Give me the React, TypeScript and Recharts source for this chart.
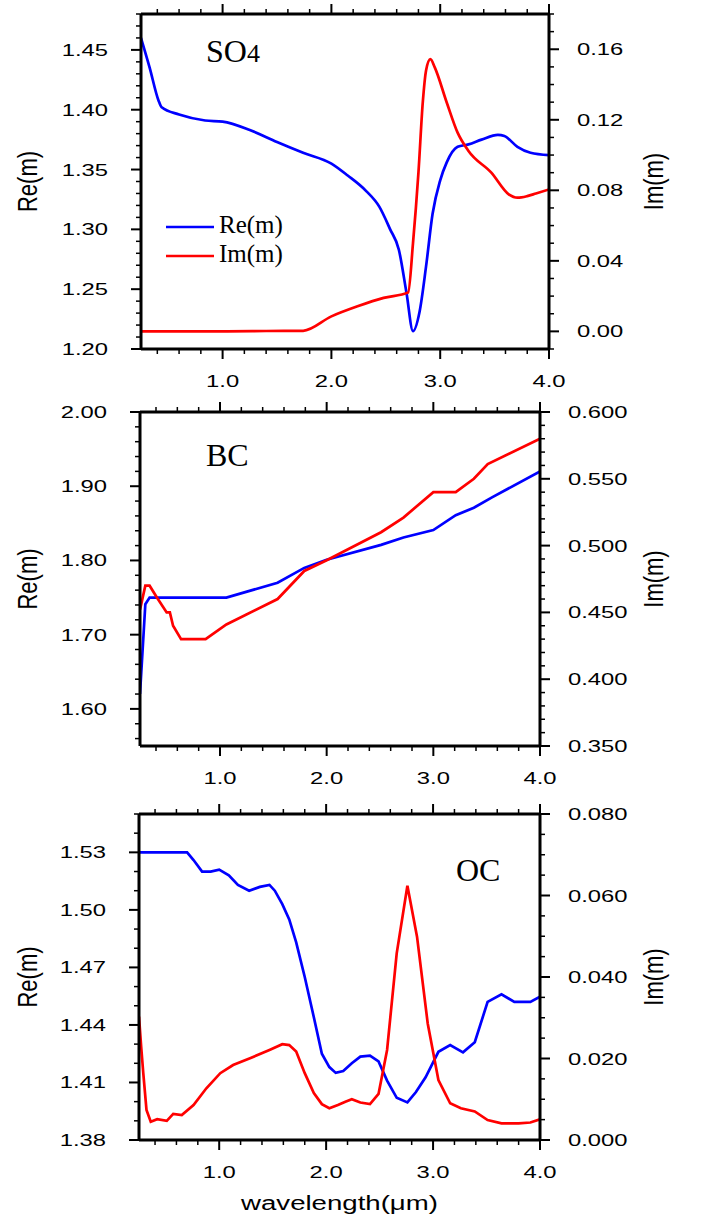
import React from 'react'
import { LineChart, Line, XAxis, YAxis } from 'recharts'

// wavelength grid & refractive index values
const so4ReWl = [0.25, 0.33, 0.41, 0.44, 0.6, 0.84, 1.0, 1.25, 1.5, 1.74, 2.0, 2.15, 2.32, 2.44, 2.54, 2.62, 2.69, 2.75, 2.81, 2.87, 2.93, 3.0, 3.06, 3.16, 3.26, 3.38, 3.53, 3.59, 3.71, 3.83, 4.0]
const so4Re = [1.46, 1.435, 1.408, 1.402, 1.396, 1.391, 1.39, 1.383, 1.373, 1.364, 1.355, 1.345, 1.332, 1.319, 1.3, 1.283, 1.247, 1.215, 1.231, 1.269, 1.313, 1.341, 1.356, 1.369, 1.371, 1.375, 1.379, 1.378, 1.369, 1.364, 1.362]
const so4ImWl = [0.25, 1.0, 1.4, 1.74, 2.0, 2.24, 2.48, 2.705, 2.75, 2.8, 2.84, 2.87, 2.91, 2.95, 3.06, 3.16, 3.26, 3.47, 3.63, 3.71, 3.8, 3.88, 4.0]
const so4Im = [0, 0, 0.0002, 0.0003, 0.0085, 0.0142, 0.019, 0.022, 0.05, 0.09, 0.13, 0.148, 0.1544, 0.1497, 0.1298, 0.1127, 0.1023, 0.09, 0.0777, 0.0758, 0.0767, 0.0782, 0.0805]

const bcReWl = [0.25, 0.3, 0.34, 0.6, 1.06, 1.54, 1.79, 2.0, 2.51, 2.72, 3.0, 3.21, 3.38, 3.55, 4.0]
const bcRe = [1.62, 1.741, 1.75, 1.75, 1.75, 1.77, 1.79, 1.801, 1.821, 1.831, 1.841, 1.861, 1.871, 1.885, 1.92]
const bcImWl = [0.25, 0.3, 0.34, 0.41, 0.5, 0.53, 0.56, 0.635, 0.865, 1.06, 1.54, 1.79, 2.0, 2.51, 2.72, 3.0, 3.21, 3.38, 3.51, 4.0]
const bcIm = [0.452, 0.47, 0.47, 0.461, 0.45, 0.45, 0.44, 0.43, 0.43, 0.441, 0.46, 0.481, 0.489, 0.51, 0.521, 0.54, 0.54, 0.55, 0.561, 0.58]

const ocReWl = [0.25, 0.7, 0.76, 0.84, 0.92, 1.0, 1.09, 1.175, 1.28, 1.38, 1.47, 1.52, 1.59, 1.655, 1.72, 1.8, 1.885, 1.96, 2.03, 2.09, 2.16, 2.24, 2.32, 2.41, 2.49, 2.57, 2.66, 2.76, 2.84, 2.93, 3.05, 3.16, 3.28, 3.39, 3.51, 3.64, 3.76, 3.91, 4.0]
const ocRe = [1.53, 1.53, 1.526, 1.52, 1.52, 1.521, 1.518, 1.513, 1.51, 1.512, 1.513, 1.51, 1.503, 1.495, 1.483, 1.465, 1.444, 1.425, 1.418, 1.415, 1.416, 1.42, 1.4235, 1.424, 1.421, 1.411, 1.402, 1.3996, 1.405, 1.4127, 1.426, 1.4295, 1.4257, 1.431, 1.452, 1.456, 1.452, 1.452, 1.4547]
const ocImWl = [0.25, 0.27, 0.29, 0.32, 0.36, 0.42, 0.51, 0.57, 0.65, 0.76, 0.88, 1.01, 1.13, 1.3, 1.47, 1.59, 1.655, 1.72, 1.8, 1.885, 1.96, 2.03, 2.11, 2.18, 2.24, 2.32, 2.41, 2.49, 2.57, 2.66, 2.76, 2.85, 2.95, 3.05, 3.16, 3.26, 3.39, 3.51, 3.64, 3.8, 3.91, 4.0]
const ocIm = [0.0303, 0.023, 0.0164, 0.0074, 0.0045, 0.0051, 0.0047, 0.0064, 0.0061, 0.0086, 0.0127, 0.0164, 0.0184, 0.0202, 0.0221, 0.0235, 0.0233, 0.0217, 0.0164, 0.0115, 0.0088, 0.0078, 0.0086, 0.0094, 0.01, 0.0092, 0.0088, 0.0113, 0.0221, 0.0458, 0.0624, 0.0499, 0.0286, 0.0147, 0.009, 0.0078, 0.007, 0.0049, 0.0041, 0.0041, 0.0043, 0.0051]

// tick labels
const xMajor = [1.0, 2.0, 3.0, 4.0]
const so4ReMajor = [1.2, 1.25, 1.3, 1.35, 1.4, 1.45]
const so4ImMajor = [0, 0.04, 0.08, 0.12, 0.16]
const bcReMajor = [1.6, 1.7, 1.8, 1.9, 2.0]
const bcImMajor = [0.35, 0.4, 0.45, 0.5, 0.55, 0.6]
const ocReMajor = [1.38, 1.41, 1.44, 1.47, 1.5, 1.53]
const ocImMajor = [0, 0.02, 0.04, 0.06, 0.08]

const SANS = 'Liberation Sans, Arial, Helvetica, sans-serif'
const SERIF = 'Liberation Serif, Times New Roman, serif'
const W = 702

const minor = (from: number, to: number, step: number) => {
  const out: number[] = []
  const n = Math.round((to - from) / step)
  for (let i = 0; i <= n; i++) out.push(Number((from + i * step).toFixed(4)))
  return out
}
const zip = (xs: number[], ys: number[]) => xs.map((x, i) => ({ x, y: ys[i] }))
const isMajor = (v: number, majors: number[]) => majors.some((m) => Math.abs(m - v) < 1e-6)

const xTicks = minor(0.4, 4.0, 0.2)

type Box = { left: number; right: number; top: number; bottom: number }

function yTick(side: 'left' | 'right', box: Box, majors: number[], digits: number) {
  return (props: any) => {
    const { y, payload } = props
    const v = payload.value
    const big = isMajor(v, majors)
    const edge = side === 'left' ? box.left : box.right
    const dir = side === 'left' ? -1 : 1
    return (
      <g>
        <line x1={edge} x2={edge + dir * (big ? 10 : 5)} y1={y} y2={y} stroke="#000" strokeWidth={big ? 2 : 1.5} />
        {big && (
          <text
            transform={`translate(${side === 'left' ? edge - 33 : edge + 28},${y + 6}) scale(1.4,1)`}
            textAnchor={side === 'left' ? 'end' : 'start'}
            fontFamily={SANS}
            fontSize={17}
            fill="#000"
          >
            {v.toFixed(digits)}
          </text>
        )}
      </g>
    )
  }
}

function xTick(side: 'top' | 'bottom', box: Box) {
  return (props: any) => {
    const { x, payload } = props
    const v = payload.value
    const big = isMajor(v, xMajor)
    const edge = side === 'top' ? box.top : box.bottom
    const dir = side === 'top' ? -1 : 1
    return (
      <g>
        <line x1={x} x2={x} y1={edge} y2={edge + dir * (big ? 10 : 5)} stroke="#000" strokeWidth={big ? 2 : 1.5} />
        {big && side === 'bottom' && (
          <text transform={`translate(${x},${edge + 38}) scale(1.4,1)`} textAnchor="middle" fontFamily={SANS} fontSize={17} fill="#000">
            {v.toFixed(1)}
          </text>
        )}
      </g>
    )
  }
}

interface PanelProps {
  top: number
  height: number
  box: Box
  reDomain: [number, number]
  imDomain: [number, number]
  reTicks: number[]
  imTicks: number[]
  reMajor: number[]
  imMajor: number[]
  imDigits: number
  curve: 'monotone' | 'linear'
  re: { x: number; y: number }[]
  im: { x: number; y: number }[]
}

const axisLine = { stroke: '#000', strokeWidth: 3 }

function Panel(p: PanelProps) {
  const { box } = p
  return (
    <div style={{ position: 'absolute', left: 0, top: p.top }}>
      <LineChart width={W} height={p.height} margin={{ top: 0, right: 0, bottom: 0, left: 0 }}>
        <XAxis xAxisId="b" type="number" dataKey="x" domain={[0.25, 4]} allowDataOverflow ticks={xTicks} interval={0}
          height={p.height - box.bottom} tickLine={false} axisLine={axisLine} tick={xTick('bottom', box)} />
        <XAxis xAxisId="t" orientation="top" type="number" dataKey="x" domain={[0.25, 4]} allowDataOverflow ticks={xTicks} interval={0}
          height={box.top} tickLine={false} axisLine={axisLine} tick={xTick('top', box)} />
        <YAxis yAxisId="re" type="number" domain={p.reDomain} allowDataOverflow ticks={p.reTicks} interval={0}
          width={box.left} tickLine={false} axisLine={axisLine} tick={yTick('left', box, p.reMajor, 2)} />
        <YAxis yAxisId="im" orientation="right" type="number" domain={p.imDomain} allowDataOverflow ticks={p.imTicks} interval={0}
          width={W - box.right} tickLine={false} axisLine={axisLine} tick={yTick('right', box, p.imMajor, p.imDigits)} />
        <Line xAxisId="b" yAxisId="re" data={p.re} dataKey="y" type={p.curve} stroke="#0000ff" strokeWidth={2.7} dot={false} isAnimationActive={false} />
        <Line xAxisId="b" yAxisId="im" data={p.im} dataKey="y" type={p.curve} stroke="#ff0000" strokeWidth={2.7} dot={false} isAnimationActive={false} />
      </LineChart>
    </div>
  )
}

function VTitle({ x, cy, text }: { x: number; cy: number; text: string }) {
  return (
    <text transform={`translate(${x},${cy}) rotate(-90) scale(1,1.25)`} textAnchor="middle" fontFamily={SANS} fontSize={22} fill="#000">
      {text}
    </text>
  )
}

export default function App() {
  return (
    <div style={{ position: 'absolute', left: 0, top: 0, width: W, height: 1218, background: '#fff' }}>
      <Panel
        top={0} height={400}
        box={{ left: 141, right: 549, top: 14, bottom: 349 }}
        reDomain={[1.2, 1.48]} imDomain={[-0.01, 0.18]}
        reTicks={minor(1.2, 1.48, 0.01)} imTicks={minor(-0.01, 0.18, 0.01)}
        reMajor={so4ReMajor} imMajor={so4ImMajor} imDigits={2} curve="monotone"
        re={zip(so4ReWl, so4Re)} im={zip(so4ImWl, so4Im)}
      />
      <Panel
        top={400} height={400}
        box={{ left: 140, right: 540, top: 12, bottom: 346 }}
        reDomain={[1.55, 2.0]} imDomain={[0.35, 0.6]}
        reTicks={minor(1.56, 2.0, 0.02)} imTicks={minor(0.35, 0.6, 0.01)}
        reMajor={bcReMajor} imMajor={bcImMajor} imDigits={3} curve="linear"
        re={zip(bcReWl, bcRe)} im={zip(bcImWl, bcIm)}
      />
      <Panel
        top={800} height={418}
        box={{ left: 139, right: 540, top: 14, bottom: 340 }}
        reDomain={[1.38, 1.55]} imDomain={[0, 0.08]}
        reTicks={minor(1.38, 1.55, 0.01)} imTicks={minor(0, 0.08, 0.005)}
        reMajor={ocReMajor} imMajor={ocImMajor} imDigits={3} curve="linear"
        re={zip(ocReWl, ocRe)} im={zip(ocImWl, ocIm)}
      />
      <svg width={W} height={1218} style={{ position: 'absolute', left: 0, top: 0, pointerEvents: 'none' }}>
        <VTitle x={37} cy={181.5} text="Re(m)" />
        <VTitle x={663} cy={181.5} text="Im(m)" />
        <VTitle x={37} cy={579} text="Re(m)" />
        <VTitle x={663} cy={579} text="Im(m)" />
        <VTitle x={37} cy={977} text="Re(m)" />
        <VTitle x={663} cy={977} text="Im(m)" />

        <text x={206} y={62} fontFamily={SERIF} fontSize={32} fill="#000">
          SO<tspan fontSize={26}>4</tspan>
        </text>
        <text x={206} y={466} fontFamily={SERIF} fontSize={32} fill="#000">BC</text>
        <text x={456} y={881} fontFamily={SERIF} fontSize={32} fill="#000">OC</text>

        <line x1={166} x2={214} y1={227} y2={227} stroke="#0000ff" strokeWidth={2.7} />
        <text x={219} y={233} fontFamily={SERIF} fontSize={25} fill="#000">Re(m)</text>
        <line x1={166} x2={214} y1={256} y2={256} stroke="#ff0000" strokeWidth={2.7} />
        <text x={219} y={262} fontFamily={SERIF} fontSize={25} fill="#000">Im(m)</text>

        <text transform="translate(339.5,1210) scale(1.38,1)" textAnchor="middle" fontFamily={SANS} fontSize={20} fill="#000">
          wavelength(μm)
        </text>
      </svg>
    </div>
  )
}
